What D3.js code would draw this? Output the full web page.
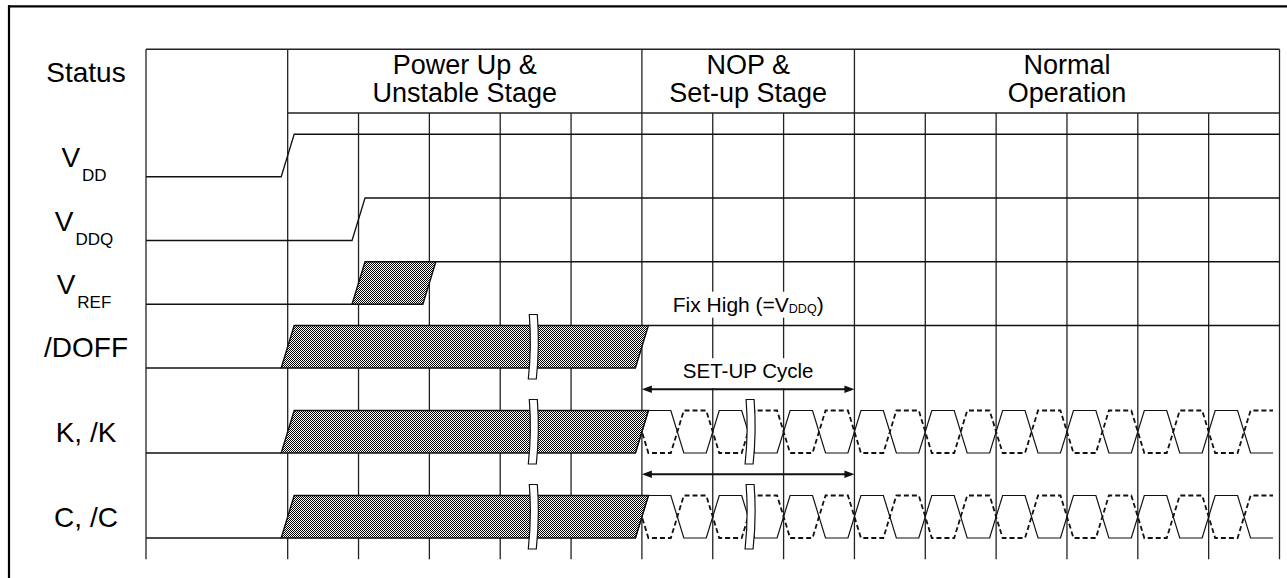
<!DOCTYPE html>
<html>
<head>
<meta charset="utf-8">
<script src="https://cdn.jsdelivr.net/npm/d3@7"></script>
<style>
  html, body { margin: 0; padding: 0; background: #fff; }
  svg { display: block; }
  text { font-family: "Liberation Sans", Arial, Helvetica, sans-serif; fill: #000; }
</style>
</head>
<body>
<svg id="chart" width="1287" height="578"></svg>
<script>
// ---------------- data ----------------
// columns of the timing grid (cycle index); -2 is the label column edge
const gridColumns = [-2, 0, 1, 2, 3, 4, 5, 6, 7, 8, 9, 10, 11, 12, 13, 14];
const stageLine1 = ["Power Up &", "NOP &", "Normal"];
const stageLine2 = ["Unstable Stage", "Set-up Stage", "Operation"];
const stageStart = [0, 5, 8];
const stageEnd = [5, 8, 14];
const statusLabel = "Status";

const signalLabel = ["V", "V", "V", "/DOFF", "K, /K", "C, /C"];
const signalSub = ["DD", "DDQ", "REF", "", "", ""];
const signalRow = [1, 4, 7, 10, 14, 18];          // row of the high level (low = row + 2)
const riseAt = [0, 1, null, null, null, null];     // clean low->high edge (cycle)
const unknownFrom = [null, null, 1, 0, 0, 0];      // start of undefined (hatched) state
const unknownTo = [null, null, 2, 5, 5, 5];        // end of undefined state
const clockFrom = [null, null, null, null, 5, 5];  // start of free-running clock
const clockTo = 14;
const breakAt = [[], [], [], [3.46], [3.46, 6.52], [3.46, 6.52]];

const arrowRow = [13, 17];
const arrowFrom = 5, arrowTo = 8;
const arrowText = ["SET-UP Cycle", ""];
const noteMain = "Fix High (=V", noteSub = "DDQ", noteEnd = ")";
const noteCol = 6.5, noteRow = 9.35;

// ---------------- scales ----------------
const x = d3.scaleLinear().domain([-2, 14]).range([146, 1279.5]);
const y = d3.scaleLinear().domain([-3, 21]).range([49.25, 559.25]);
const TW = 6.5;          // half width of a signal edge (px)
const INK = "#111";

const svg = d3.select("#chart");

// checker (hatch) pattern
const defs = svg.append("defs");
const pat = defs.append("pattern").attr("id", "hatch")
  .attr("patternUnits", "userSpaceOnUse").attr("width", 2).attr("height", 2)
  .attr("shape-rendering", "crispEdges");
pat.append("rect").attr("width", 2).attr("height", 2).attr("fill", "#fff");
pat.append("rect").attr("x", 0).attr("y", 0).attr("width", 1).attr("height", 1).attr("fill", "#000");
pat.append("rect").attr("x", 1).attr("y", 1).attr("width", 1).attr("height", 1).attr("fill", "#000");

const gGrid = svg.append("g").attr("stroke", "#222").attr("stroke-width", 1.3).attr("fill", "none");

// vertical grid lines
const stageEdges = new Set([-2, ...stageStart, 14]);
gGrid.selectAll("line.v").data(gridColumns).join("line")
  .attr("x1", d => x(d)).attr("x2", d => x(d))
  .attr("y1", d => stageEdges.has(d) ? y(-3) : y(0))
  .attr("y2", y(21));
// header horizontal lines
gGrid.append("line").attr("x1", x(-2)).attr("x2", x(14)).attr("y1", y(-3)).attr("y2", y(-3));
gGrid.append("line").attr("x1", x(0)).attr("x2", x(14)).attr("y1", y(0)).attr("y2", y(0));

// ---------------- signals ----------------
const gSig = svg.append("g").attr("stroke", INK).attr("stroke-width", 1.3).attr("fill", "none");
const line = d3.line();

signalRow.forEach((r, i) => {
  const hi = y(r), lo = y(r + 2);
  if (riseAt[i] !== null) {
    const c = x(riseAt[i]);
    gSig.append("path").attr("d", line([[x(-2), lo], [c - TW, lo], [c + TW, hi], [x(14), hi]]));
  }
  if (unknownFrom[i] !== null) {
    const a = x(unknownFrom[i]), b = x(unknownTo[i]);
    gSig.append("path").attr("d", line([[x(-2), lo], [a - TW, lo]]));
    if (clockFrom[i] === null) {
      gSig.append("path").attr("d", line([[b + TW, hi], [x(14), hi]]));
    }
  }
  if (clockFrom[i] !== null) {
    const n = Math.round((clockTo - clockFrom[i]) * 2);
    const half = (x(clockTo) - x(clockFrom[i])) / n;
    [0, 1].forEach(phase => {
      const pts = [];
      for (let k = 0; k < n; k++) {
        const lvl = ((k + phase) % 2 === 0) ? hi : lo;
        const other = lvl === hi ? lo : hi;
        const xs = x(clockFrom[i]) + k * half;
        if (k === 0) pts.push([xs - TW, other]);
        pts.push([xs + TW, lvl]);
        pts.push([xs + half - TW, lvl]);
      }
      gSig.append("path").attr("d", line(pts))
        .attr("stroke-width", phase === 0 ? 1.2 : 1.8)
        .attr("stroke-dasharray", phase === 0 ? null : "5,3");
    });
  }
  if (unknownFrom[i] !== null) {
    const a = x(unknownFrom[i]), b = x(unknownTo[i]);
    gSig.append("path")
      .attr("d", line([[a - TW, lo], [a + TW, hi], [b + TW, hi], [b - TW, lo]]) + "Z")
      .attr("fill", "url(#hatch)").attr("stroke", INK).attr("stroke-width", 1.4);
  }
  breakAt[i].forEach(bc => {
    const cx = x(bc), yT = hi - 11, yB = lo + 11, mid = (yT + yB) / 2;
    const p = d3.path();
    p.moveTo(cx - 3.5, yT);
    p.lineTo(cx + 4.5, yT);
    p.quadraticCurveTo(cx + 7, mid, cx + 3.5, yB);
    p.lineTo(cx - 4.5, yB);
    p.quadraticCurveTo(cx - 1, mid, cx - 3.5, yT);
    p.closePath();
    gSig.append("path").attr("d", p.toString()).attr("fill", "#fff")
      .attr("stroke", INK).attr("stroke-width", 1.2);
  });
});

// ---------------- arrows ----------------
const gArr = svg.append("g");
arrowRow.forEach((r, i) => {
  const yy = y(r), a = x(arrowFrom), b = x(arrowTo);
  if (arrowText[i]) {
    const t = gArr.append("text").attr("x", (a + b) / 2).attr("y", yy - 11)
      .attr("text-anchor", "middle").attr("font-size", 20.5).text(arrowText[i]);
    const bb = t.node().getBBox();
    gArr.insert("rect", "text").attr("x", bb.x - 3).attr("y", bb.y - 1)
      .attr("width", bb.width + 6).attr("height", yy - 1 - (bb.y - 1)).attr("fill", "#fff");
  }
  gArr.append("line").attr("x1", a + 4).attr("x2", b - 4).attr("y1", yy).attr("y2", yy)
    .attr("stroke", INK).attr("stroke-width", 1.8);
  gArr.append("path").attr("d", line([[a, yy], [a + 10, yy - 3.8], [a + 10, yy + 3.8]]) + "Z").attr("fill", INK);
  gArr.append("path").attr("d", line([[b, yy], [b - 10, yy - 3.8], [b - 10, yy + 3.8]]) + "Z").attr("fill", INK);
});

// note text with white background
const note = svg.append("text").attr("x", x(noteCol)).attr("y", y(noteRow))
  .attr("text-anchor", "middle").attr("font-size", 21);
note.append("tspan").text(noteMain);
note.append("tspan").attr("font-size", 12.5).attr("dy", 1).text(noteSub);
note.append("tspan").attr("dy", -1).text(noteEnd);
const nb = note.node().getBBox();
svg.insert("rect", () => note.node()).attr("x", nb.x - 3).attr("y", nb.y - 1)
  .attr("width", nb.width + 6).attr("height", nb.height + 3).attr("fill", "#fff");

// ---------------- header text ----------------
const gHead = svg.append("g").attr("font-size", 27).attr("text-anchor", "middle");
stageStart.forEach((s, i) => {
  const cx = (x(s) + x(stageEnd[i])) / 2;
  gHead.append("text").attr("x", cx).attr("y", 74).text(stageLine1[i]);
  gHead.append("text").attr("x", cx).attr("y", 101.5).text(stageLine2[i]);
});
gHead.append("text").attr("x", 86).attr("y", 82).attr("font-size", 28).text(statusLabel);

// ---------------- signal labels ----------------
const gLab = svg.append("g").attr("font-size", 28).attr("text-anchor", "middle");
signalRow.forEach((r, i) => {
  const lo = y(r + 2);
  const t = gLab.append("text").attr("x", signalSub[i] ? 84 : 86)
    .attr("y", signalSub[i] ? lo - 10 : lo - 11);
  t.append("tspan").text(signalLabel[i]);
  if (signalSub[i]) {
    t.append("tspan").attr("font-size", 17).attr("dx", 2).attr("dy", 14).text(signalSub[i]);
  }
});

// ---------------- outer frame ----------------
svg.append("line").attr("x1", 8).attr("x2", 1287).attr("y1", 6.3).attr("y2", 6.3)
  .attr("stroke", "#000").attr("stroke-width", 2.2);
svg.append("line").attr("x1", 9).attr("x2", 9).attr("y1", 5.2).attr("y2", 578)
  .attr("stroke", "#000").attr("stroke-width", 2.2);
</script>
</body>
</html>
